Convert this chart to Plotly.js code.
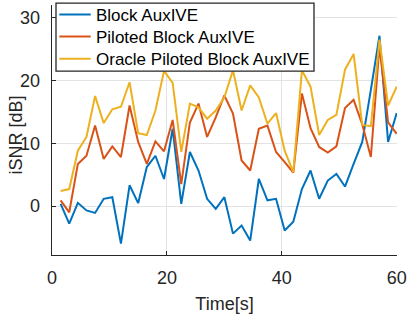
<!DOCTYPE html>
<html>
<head>
<meta charset="utf-8">
<script src="https://cdn.plot.ly/plotly-3.0.1.min.js"></script>
<style>html,body{margin:0;padding:0;background:#fff}#chart{width:407px;height:314px}</style>
</head>
<body>
<div id="chart"></div>
<script>
var timeS = [1.5, 3, 4.5, 6, 7.5, 9, 10.5, 12, 13.5, 15, 16.5, 18, 19.5, 21, 22.5, 24, 25.5, 27, 28.5, 30,
             31.5, 33, 34.5, 36, 37.5, 39, 40.5, 42, 43.5, 45, 46.5, 48, 49.5, 51, 52.5, 54, 55.5, 57, 58.5, 60];
var blockAuxIVE = [0.35, -2.8, 0.5, -0.7, -1.1, 1.15, 1.4, -6.0, 3.3, 0.45, 6.2, 8.0, 4.3, 12.3, 0.35, 8.6, 5.65, 1.15, -0.45, 1.4,
                   -4.4, -3.1, -5.5, 4.3, 0.9, 1.15, -3.9, -2.5, 2.7, 5.65, 1.15, 4.05, 5.1, 3.1, 6.7, 10.2, 18.5, 27.1, 10.2, 14.8];
var pilotedBlockAuxIVE = [0.9, -1.0, 6.7, 8.0, 12.8, 7.5, 9.5, 7.8, 16.0, 10.2, 6.7, 10.3, 8.7, 13.7, 3.5, 13.3, 16.3, 11.0, 14.1, 17.6,
                          14.7, 7.25, 5.65, 12.3, 12.8, 8.6, 7.0, 5.3, 17.9, 12.4, 9.4, 8.5, 9.5, 15.6, 16.9, 13.0, 7.8, 25.5, 13.3, 11.5];
var oraclePilotedBlockAuxIVE = [2.4, 2.7, 8.8, 11.0, 17.5, 13.2, 15.4, 15.8, 19.7, 11.6, 11.3, 15.2, 21.5, 19.6, 8.6, 16.3, 15.7, 13.9, 15.2, 17.3,
                                21.6, 15.2, 19.2, 17.3, 13.1, 14.8, 8.8, 5.4, 21.6, 19.0, 11.3, 13.7, 14.5, 21.7, 24.2, 12.9, 12.7, 26.5, 16.0, 19.0];
var seriesNames = ['Block AuxIVE', 'Piloted Block AuxIVE', 'Oracle Piloted Block AuxIVE'];
var xTicks = [0, 20, 40, 60];
var yTicks = [0, 10, 20, 30];
var xTitle = 'Time[s]';
var yTitle = 'iSNR [dB]';

var colors = ['#0072BD', '#D95319', '#EDB120'];
var ys = [blockAuxIVE, pilotedBlockAuxIVE, oraclePilotedBlockAuxIVE];
var traces = ys.map(function (y, k) {
  return {x: timeS, y: y, type: 'scatter', mode: 'lines', name: seriesNames[k],
          line: {color: colors[k], width: 2}, showlegend: false};
});

var fontFam = '"Liberation Sans", Arial, Helvetica, sans-serif';
var axisCommon = {
  showgrid: true, gridcolor: '#e3e3e3', gridwidth: 1,
  zeroline: false, showline: true, linecolor: '#262626', linewidth: 1.3,
  ticks: 'inside', ticklen: 4, tickcolor: '#262626', tickwidth: 1,
  tickfont: {family: fontFam, size: 18, color: '#262626'},
  tickmode: 'array', mirror: false
};

// Legend box (drawn in paper coordinates of the plot area)
var legendRows = [0.962, 0.874, 0.785];
var shapes = [{
  type: 'rect', xref: 'paper', yref: 'paper', layer: 'above',
  x0: 0.0116, x1: 0.7594, y0: 0.7354, y1: 1.0072,
  fillcolor: '#ffffff', line: {color: '#262626', width: 1.3}
}];
var annotations = [];
seriesNames.forEach(function (name, k) {
  shapes.push({type: 'line', xref: 'paper', yref: 'paper', layer: 'above',
    x0: 0.0212, x1: 0.1122, y0: legendRows[k], y1: legendRows[k],
    line: {color: colors[k], width: 2}});
  annotations.push({xref: 'paper', yref: 'paper', x: 0.1217, y: legendRows[k],
    xanchor: 'left', yanchor: 'middle', text: name, showarrow: false, yshift: -1,
    font: {family: fontFam, size: 17, color: '#000'}});
});
annotations.push({xref: 'paper', yref: 'paper', x: -0.107, y: 0.478, textangle: -90,
  xanchor: 'center', yanchor: 'middle', text: yTitle, showarrow: false,
  font: {family: fontFam, size: 18, color: '#262626'}});

var layout = {
  width: 407, height: 314,
  margin: {l: 52, r: 10, t: 4.5, b: 59.3, pad: 0},
  paper_bgcolor: '#fff', plot_bgcolor: '#fff',
  showlegend: false,
  xaxis: Object.assign({}, axisCommon, {
    range: [0, 60.05], tickvals: xTicks, ticktext: xTicks.map(String),
    ticklabelstandoff: 6, automargin: false,
    title: {text: xTitle, font: {family: fontFam, size: 18, color: '#262626'}, standoff: 11}
  }),
  yaxis: Object.assign({}, axisCommon, {
    range: [-7.8, 32], tickvals: yTicks, ticktext: yTicks.map(String),
    ticklabelstandoff: 7, automargin: false
  }),
  shapes: shapes,
  annotations: annotations
};
Plotly.newPlot('chart', traces, layout, {displayModeBar: false, staticPlot: true});
</script>
</body>
</html>
